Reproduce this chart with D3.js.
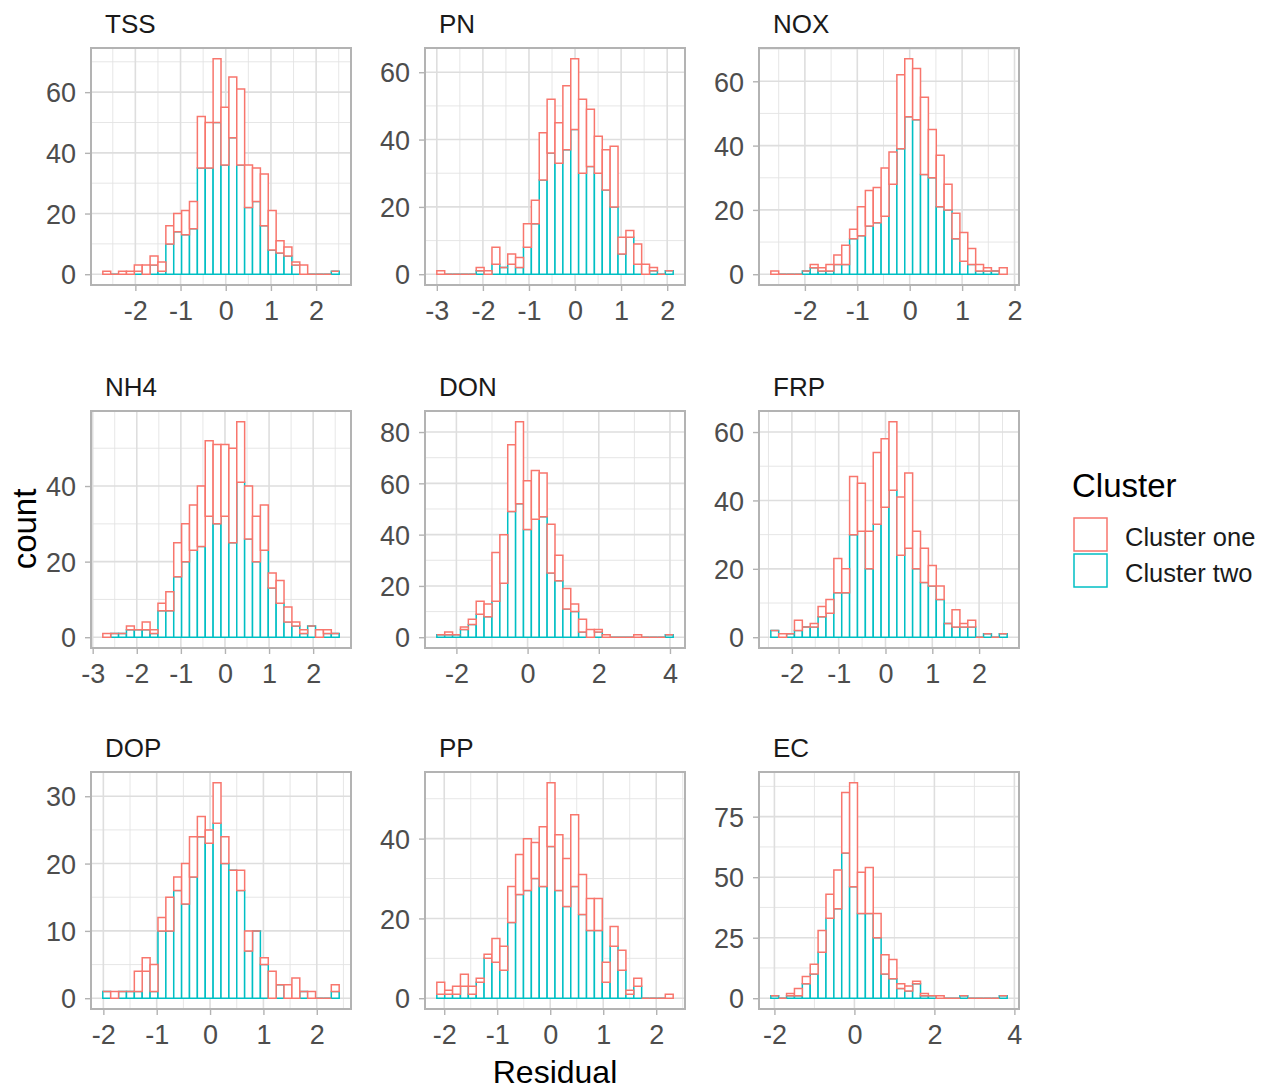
<!DOCTYPE html>
<html>
<head>
<meta charset="utf-8">
<script src="https://cdn.jsdelivr.net/npm/d3@7"></script>
<style>
  body { margin: 0; background: #fff; }
  text { font-family: "Liberation Sans", Arial, sans-serif; }
</style>
</head>
<body>
<svg width="1261" height="1090"></svg>
<script>
// facet names, in reading order
var panelNames = ["TSS", "PN", "NOX", "NH4", "DON", "FRP", "DOP", "PP", "EC"];
// lower / upper edge of the 30 bins in each facet
var binLow  = [-2.72, -3.00, -2.65, -2.77, -2.55, -2.45, -2.01, -2.14, -2.09];
var binHigh = [ 2.51,  2.13,  1.86,  2.59,  4.09,  2.60,  2.42,  2.32,  3.82];
// axis breaks
var xTicks = [[-2, -1, 0, 1, 2], [-3, -2, -1, 0, 1, 2], [-2, -1, 0, 1, 2],
              [-3, -2, -1, 0, 1, 2], [-2, 0, 2, 4], [-2, -1, 0, 1, 2],
              [-2, -1, 0, 1, 2], [-2, -1, 0, 1, 2], [-2, 0, 2, 4]];
var yTicks = [[0, 20, 40, 60], [0, 20, 40, 60], [0, 20, 40, 60],
              [0, 20, 40], [0, 20, 40, 60, 80], [0, 20, 40, 60],
              [0, 10, 20, 30], [0, 20, 40], [0, 25, 50, 75]];

// counts per bin, Cluster one (stacked on top) and Cluster two (bottom)
var tssOne = [1,0,1,1,2,3,3,3,6,6,8,9,17,15,21,19,20,25,14,11,17,13,4,3,1,3,0,0,0,0];
var tssTwo = [0,0,0,0,1,0,3,1,10,14,13,15,35,35,50,36,45,36,22,24,16,8,7,6,3,0,0,0,0,1];
var pnOne  = [1,0,0,0,0,1,1,5,0,3,3,7,7,14,16,12,19,21,22,17,11,12,18,5,2,6,3,1,0,0];
var pnTwo  = [0,0,0,0,0,1,0,3,2,3,2,8,15,28,36,33,37,43,30,32,30,25,20,6,11,3,0,1,0,1];
var noxOne = [1,0,0,0,0,1,1,2,3,6,3,9,11,11,15,10,23,18,16,24,15,16,8,8,9,5,2,1,0,2];
var noxTwo = [0,0,0,0,1,2,1,1,3,3,11,12,15,16,18,28,39,49,48,31,30,21,20,11,4,3,1,1,1,0];
var nh4One = [1,0,0,1,0,2,1,2,5,9,10,12,16,20,21,19,25,16,14,12,12,4,6,4,1,1,0,2,1,0];
var nh4Two = [0,1,1,2,2,2,1,7,7,16,20,23,24,32,30,32,25,41,26,20,23,13,9,4,3,1,3,0,1,1];
var donOne = [0,1,0,1,2,5,5,19,19,26,32,19,19,17,19,10,8,3,5,3,1,1,0,0,0,1,0,0,0,0];
var donTwo = [1,1,1,3,5,9,8,14,21,49,52,42,46,47,25,22,11,10,2,0,2,0,0,0,0,0,0,0,0,1];
var frpOne = [0,1,0,3,0,1,3,4,10,7,17,14,11,21,20,20,17,22,11,10,6,4,0,5,1,2,0,0,0,0];
var frpTwo = [2,0,1,2,3,3,6,7,13,13,30,31,20,33,38,43,24,26,20,16,15,11,4,3,3,3,0,1,0,1];
var dopOne = [0,1,0,0,3,2,4,2,5,2,6,6,3,2,6,4,0,3,3,0,1,4,0,2,3,0,1,0,0,1];
var dopTwo = [1,0,1,1,1,4,1,10,10,16,14,18,24,23,26,20,19,16,7,10,5,0,2,0,0,1,0,0,0,1];
var ppOne  = [3,1,2,3,2,1,1,6,6,9,10,13,9,15,16,14,12,18,10,8,8,5,5,5,1,2,0,0,0,1];
var ppTwo  = [1,1,1,3,1,4,10,9,7,19,26,27,30,28,38,27,23,28,21,17,17,4,13,7,1,3,0,0,0,0];
var ecOne  = [0,0,1,3,3,4,9,10,16,25,43,17,19,10,8,8,2,2,1,1,0,1,0,0,0,0,0,0,0,0];
var ecTwo  = [1,0,1,1,6,10,19,33,37,60,46,35,35,25,10,8,4,3,6,1,1,0,0,0,1,0,0,0,0,1];

var clusterOne = [tssOne, pnOne, noxOne, nh4One, donOne, frpOne, dopOne, ppOne, ecOne];
var clusterTwo = [tssTwo, pnTwo, noxTwo, nh4Two, donTwo, frpTwo, dopTwo, ppTwo, ecTwo];
var clusterNames = ["Cluster one", "Cluster two"];

var colour = d3.scaleOrdinal().domain(clusterNames).range(["#F8766D", "#00BFC4"]);

var svg = d3.select("svg");
svg.append("rect").attr("width", 1261).attr("height", 1090).attr("fill", "#fff");

// panel layout
var panelW = 260, panelH = 237;
var colLeft = [91, 425, 759];
var rowTop = [48, 411, 772];

function minorBreaks(major, domain) {
  var step = major[1] - major[0];
  var out = major.map(function(t) { return t - step / 2; });
  out.push(major[major.length - 1] + step / 2);
  return out.filter(function(t) { return t > domain[0] && t < domain[1]; });
}

// rectangle as a path so that empty bins still show their outline
function barPath(x0, x1, y0, y1) {
  var p = d3.path();
  p.moveTo(x0, y0); p.lineTo(x1, y0); p.lineTo(x1, y1); p.lineTo(x0, y1); p.closePath();
  return p.toString();
}

panelNames.forEach(function(name, p) {
  var left = colLeft[p % 3], top = rowTop[Math.floor(p / 3)];
  var n = clusterTwo[p].length;
  var bw = (binHigh[p] - binLow[p]) / n;
  var bins = clusterTwo[p].map(function(c, i) {
    return { x0: binLow[p] + i * bw, x1: binLow[p] + (i + 1) * bw,
             two: c, one: clusterOne[p][i] };
  });
  var xPad = (binHigh[p] - binLow[p]) * 0.05;
  var yMax = d3.max(bins, function(b) { return b.one + b.two; });
  var xDom = [binLow[p] - xPad, binHigh[p] + xPad];
  var yDom = [-yMax * 0.05, yMax * 1.05];
  var x = d3.scaleLinear().domain(xDom).range([left, left + panelW]);
  var y = d3.scaleLinear().domain(yDom).range([top + panelH, top]);

  var g = svg.append("g");
  // grid
  g.selectAll(".vmin").data(minorBreaks(xTicks[p], xDom)).join("line")
    .attr("x1", x).attr("x2", x).attr("y1", top).attr("y2", top + panelH)
    .attr("stroke", "#e3e3e3").attr("stroke-width", 0.9);
  g.selectAll(".hmin").data(minorBreaks(yTicks[p], yDom)).join("line")
    .attr("y1", y).attr("y2", y).attr("x1", left).attr("x2", left + panelW)
    .attr("stroke", "#e3e3e3").attr("stroke-width", 0.9);
  g.selectAll(".vmaj").data(xTicks[p]).join("line")
    .attr("x1", x).attr("x2", x).attr("y1", top).attr("y2", top + panelH)
    .attr("stroke", "#dedede").attr("stroke-width", 1.6);
  g.selectAll(".hmaj").data(yTicks[p]).join("line")
    .attr("y1", y).attr("y2", y).attr("x1", left).attr("x2", left + panelW)
    .attr("stroke", "#dedede").attr("stroke-width", 1.6);

  // bars: cluster two first, then cluster one stacked on top
  g.selectAll(".two").data(bins).join("path")
    .attr("d", function(d) { return barPath(x(d.x0), x(d.x1), y(0), y(d.two)); })
    .attr("fill", "#fff").attr("stroke", colour("Cluster two")).attr("stroke-width", 1.5);
  g.selectAll(".one").data(bins).join("path")
    .attr("d", function(d) { return barPath(x(d.x0), x(d.x1), y(d.two), y(d.two + d.one)); })
    .attr("fill", "#fff").attr("stroke", colour("Cluster one")).attr("stroke-width", 1.5);

  // border
  g.append("rect").attr("x", left).attr("y", top).attr("width", panelW).attr("height", panelH)
    .attr("fill", "none").attr("stroke", "#b3b3b3").attr("stroke-width", 2);

  // axes
  var xAxis = d3.axisBottom(x).tickValues(xTicks[p]).tickSize(5).tickPadding(10)
    .tickFormat(function(d) { return String(d).replace("\u2212", "-"); });
  var ax = g.append("g").attr("transform", "translate(0," + (top + panelH + 1) + ")").call(xAxis);
  var yAxis = d3.axisLeft(y).tickValues(yTicks[p]).tickSize(5).tickPadding(9);
  var ay = g.append("g").attr("transform", "translate(" + (left - 1) + ",0)").call(yAxis);
  [ax, ay].forEach(function(a) {
    a.select(".domain").remove();
    a.selectAll(".tick line").attr("stroke", "#b3b3b3").attr("stroke-width", 1.4);
    a.selectAll(".tick text").attr("fill", "#4d4d4d").attr("font-size", 27)
      .attr("font-family", "Liberation Sans, Arial, sans-serif");
  });
  ay.selectAll(".tick text").attr("dy", "0.36em");

  // strip label
  g.append("text").attr("x", left + 14).attr("y", top - 15)
    .attr("font-size", 26).attr("fill", "#1a1a1a").text(name);
});

// axis titles
svg.append("text").attr("x", 555).attr("y", 1083).attr("text-anchor", "middle")
  .attr("font-size", 32).attr("fill", "#000").text("Residual");
svg.append("text").attr("transform", "translate(36,529) rotate(-90)")
  .attr("text-anchor", "middle").attr("font-size", 33).attr("fill", "#000").text("count");

// legend
var legend = svg.append("g").attr("transform", "translate(1073,0)");
legend.append("text").attr("x", -1).attr("y", 497).attr("font-size", 33)
  .attr("fill", "#000").text("Cluster");
clusterNames.forEach(function(c, i) {
  legend.append("rect").attr("x", 1).attr("y", 518 + i * 36).attr("width", 33).attr("height", 33)
    .attr("fill", "#fff").attr("stroke", colour(c)).attr("stroke-width", 1.5);
  legend.append("text").attr("x", 52).attr("y", 546 + i * 36).attr("font-size", 25.5)
    .attr("fill", "#1a1a1a").text(c);
});
</script>
</body>
</html>
